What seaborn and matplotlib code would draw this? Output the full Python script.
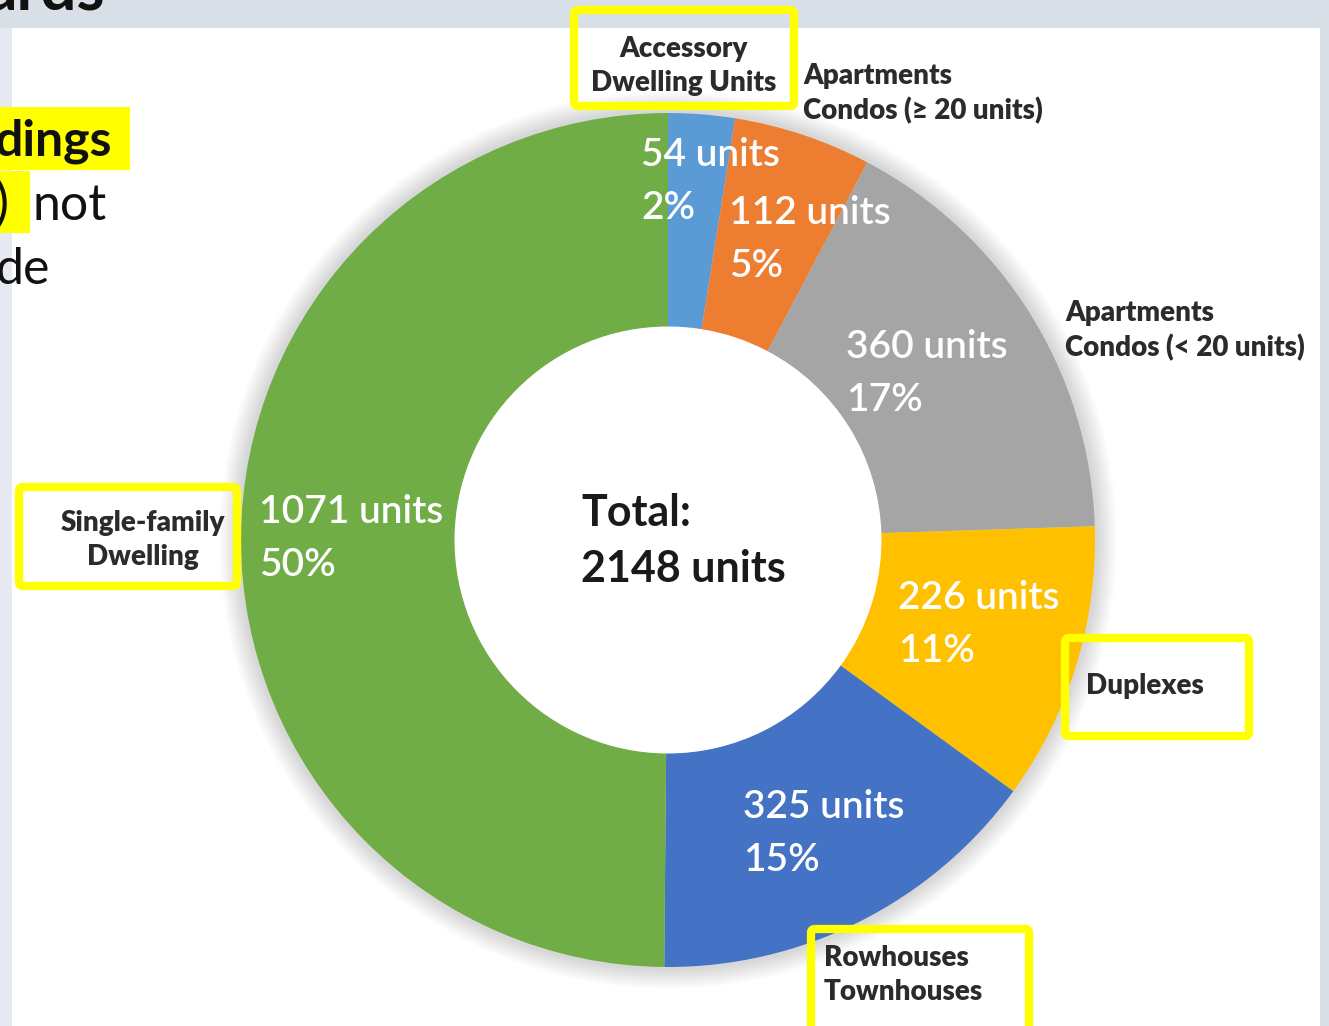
import matplotlib
matplotlib.use("Agg")
import matplotlib.pyplot as plt
from matplotlib.patches import Rectangle, FancyBboxPatch, Circle
import seaborn as sns

# ---- data ----
categories = ["Accessory\nDwelling Units", "Apartments\nCondos (\u2265 20 units)",
              "Apartments\nCondos (< 20 units)", "Duplexes",
              "Rowhouses\nTownhouses", "Single-family\nDwelling"]
units = [54, 112, 360, 226, 325, 1071]
percents = ["2%", "5%", "17%", "11%", "15%", "50%"]
colors = ["#5B9BD5", "#ED7D31", "#A5A5A5", "#FFC000", "#4472C4", "#70AD47"]
total_units = 2148

sns.set_theme(style="white")
plt.rcParams['font.family'] = ['Lato', 'DejaVu Sans']

W, H = 1329, 1026
fig = plt.figure(figsize=(W / 100, H / 100), dpi=100)
fig.patch.set_facecolor("#D9DFE7")
ax = fig.add_axes([0, 0, 1, 1])

# slide panel
ax.add_patch(Rectangle((0, 0), W, H, facecolor="#D9DFE7", edgecolor="none", zorder=0))
ax.add_patch(Rectangle((0, 28), 12, H, facecolor="#E6EAF0", edgecolor="none", zorder=0))
ax.add_patch(Rectangle((12, 28), 1308, H, facecolor="white", edgecolor="none", zorder=0))

cx, cy, R = 668, 540, 427

# soft shadow around donut
for i in range(20):
    ax.add_patch(Circle((cx, cy), R + 22 - i, facecolor="#000000", alpha=0.007,
                        edgecolor="none", zorder=1))

wedges, _ = ax.pie(units, colors=colors, startangle=-90, counterclock=True,
                   center=(cx, cy), radius=R,
                   wedgeprops=dict(width=R * 0.5, linewidth=0))
for w in wedges:
    w.set_zorder(2)
# white hole
ax.add_patch(Circle((cx, cy), R * 0.5 + 0.5, facecolor="white", edgecolor="none", zorder=1.5))

ax.set_xlim(0, W)
ax.set_ylim(H, 0)
ax.set_aspect('auto')
ax.axis('off')

# data labels inside wedges
label_pos = [(641, 155), (729, 213), (846, 347), (898, 598), (743, 807), (259, 512)]
for (x, y), u, p in zip(label_pos, units, percents):
    ax.text(x, y, f"{u} units", color="white", fontsize=28, fontweight="semibold",
            ha="left", va="center", zorder=5)
    ax.text(x, y + 53, p, color="white", fontsize=28, fontweight="semibold",
            ha="left", va="center", zorder=5)

# center total
ax.text(581, 513, "Total:", fontsize=31, fontweight="bold", color="#1a1a1a",
        ha="left", va="center", zorder=5)
ax.text(581, 569, f"{total_units} units", fontsize=31, fontweight="bold",
        color="#1a1a1a", ha="left", va="center", zorder=5)

# category labels
cat_pos = [(684, 66, "center"), (803, 94, "left"), (1065, 331, "left"),
           (1086, 686, "left"), (824, 975, "left"), (143, 540, "center")]
for (x, y, ha), c in zip(cat_pos, categories):
    ax.text(x, y, c, fontsize=20, fontweight="heavy", color="#2b2b2b", ha=ha,
            va="center", linespacing=1.35, zorder=6)

# yellow highlight boxes
boxes = [(574, 10, 220, 96), (19, 487, 218, 99), (1065, 638, 184, 98), (811, 929, 218, 110)]
for x, y, w, h in boxes:
    ax.add_patch(FancyBboxPatch((x, y), w, h, boxstyle="round,pad=0,rounding_size=4",
                                facecolor="none", edgecolor="#FFFF00", linewidth=6, zorder=7))

# partial slide text on the left
ax.text(105, 9, "ards", fontsize=46, fontweight="bold", color="#111111",
        ha="right", va="baseline", zorder=8)
ax.add_patch(Rectangle((0, 107), 130, 63, facecolor="#FFFF00", edgecolor="none", zorder=7))
ax.add_patch(Rectangle((0, 171), 30, 62, facecolor="#FFFF00", edgecolor="none", zorder=7))
ax.text(112, 155, "dings", fontsize=36, fontweight="bold", color="#111111",
        ha="right", va="baseline", zorder=8)
ax.text(-6, 220, ")", fontsize=38, color="#111111", ha="left", va="baseline", zorder=8)
ax.text(32, 220, "not", fontsize=36, color="#111111", ha="left", va="baseline", zorder=8)
ax.text(50, 284, "de", fontsize=36, color="#111111", ha="right", va="baseline", zorder=8)

fig.savefig("out.png", dpi=100)
